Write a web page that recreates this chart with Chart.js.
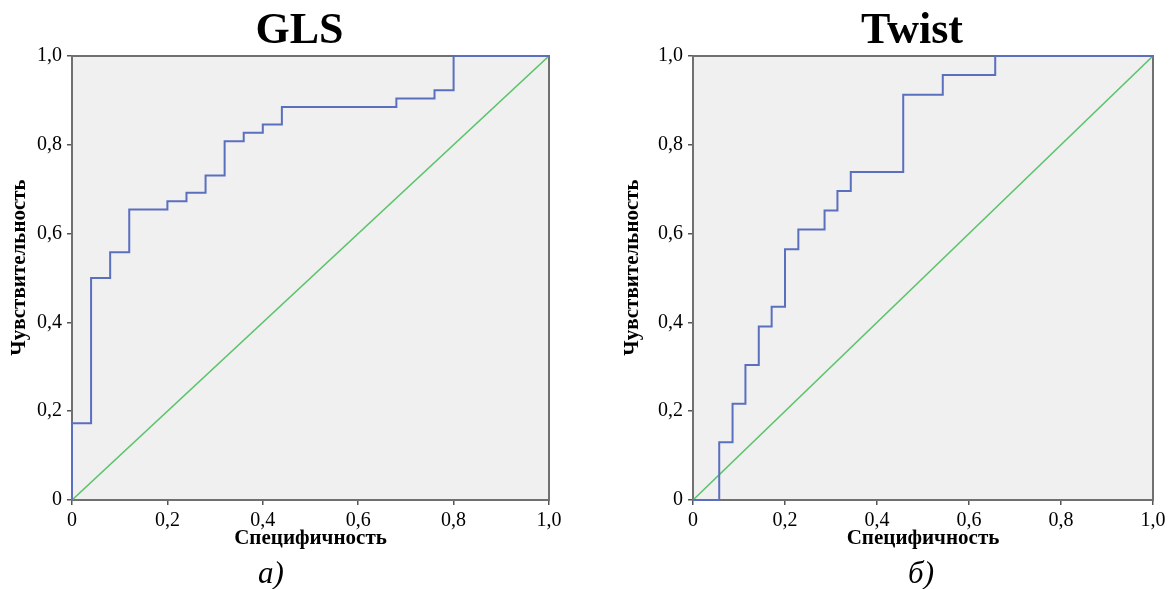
<!DOCTYPE html>
<html>
<head>
<meta charset="utf-8">
<script src="https://cdn.jsdelivr.net/npm/chart.js@4.4.1/dist/chart.umd.min.js"></script>
<style>
  body { margin: 0; background: #fff; width: 1172px; height: 589px; position: relative; overflow: hidden; font-family: "Liberation Serif", "Times New Roman", serif; }
  .box { position: absolute; top: 0; height: 589px; }
  .cap { position: absolute; top: 555px; font-style: italic; font-size: 31px; transform: translateX(-50%); color: #000; }
</style>
</head>
<body>
<div class="box" style="left:0;width:586px"><canvas id="glsChart"></canvas></div>
<div class="box" style="left:600px;width:572px"><canvas id="twistChart"></canvas></div>
<div class="cap" style="left:271px">а)</div>
<div class="cap" style="left:921px">б)</div>

<script>
// ROC curve corners (x = 1 - specificity, y = sensitivity)
const glsX = [0, 0, 0.04, 0.08, 0.12, 0.20, 0.24, 0.28, 0.32, 0.36, 0.40, 0.44, 0.68, 0.76, 0.80, 1.0];
const glsY = [0, 0.173, 0.500, 0.558, 0.654, 0.673, 0.692, 0.731, 0.808, 0.827, 0.846, 0.885, 0.904, 0.923, 1.0, 1.0];

const twistX = [0, 0.057, 0.086, 0.114, 0.143, 0.171, 0.200, 0.229, 0.286, 0.314, 0.343, 0.457, 0.543, 0.657, 1.0];
const twistY = [0, 0.130, 0.217, 0.304, 0.391, 0.435, 0.565, 0.609, 0.652, 0.696, 0.739, 0.913, 0.957, 1.0, 1.0];

// reference diagonal
const refX = [0, 1];
const refY = [0, 1];

const xTickLabels = ['0', '0,2', '0,4', '0,6', '0,8', '1,0'];
const yTickLabels = ['0', '0,2', '0,4', '0,6', '0,8', '1,0'];

const serif = '"Liberation Serif", "Times New Roman", serif';

// grey plot background plus frame round the plot area
const framePlugin = {
    id: 'frame',
    beforeDatasetsDraw(chart) {
        const a = chart.chartArea, ctx = chart.ctx;
        ctx.save();
        ctx.fillStyle = '#f0f0f0';
        ctx.fillRect(a.left, a.top, a.right - a.left, a.bottom - a.top);
        ctx.strokeStyle = '#707070';
        ctx.lineWidth = 2;
        ctx.strokeRect(a.left, a.top, a.right - a.left, a.bottom - a.top);
        ctx.restore();
    }
};

function toPoints(xs, ys) {
    return xs.map((x, i) => ({ x: x, y: ys[i] }));
}

function makeRoc(id, titleText, xs, ys, axisWidth, padRight, yTitlePad) {
    const ctx = document.getElementById(id).getContext('2d');
    return new Chart(ctx, {
        type: 'line',
        data: {
            datasets: [{
                data: toPoints(xs, ys),
                stepped: 'before',
                borderColor: '#5b6fbf',
                borderWidth: 2,
                pointRadius: 0,
                fill: false,
                clip: 3
            }, {
                data: toPoints(refX, refY),
                borderColor: '#5cc46b',
                borderWidth: 1.6,
                pointRadius: 0,
                fill: false
            }]
        },
        options: {
            responsive: true,
            maintainAspectRatio: false,
            animation: false,
            layout: { padding: { left: 0, right: padRight, top: 0, bottom: 39 } },
            plugins: {
                legend: { display: false },
                tooltip: { enabled: false },
                title: {
                    display: true,
                    // trailing spaces nudge the title a little left of the plot centre, as in the source
                    text: titleText + '  ',
                    fullSize: false,
                    color: '#000',
                    font: { family: serif, size: 44, weight: 'bold', lineHeight: 1.0 },
                    padding: { top: 10, bottom: 2 }
                }
            },
            scales: {
                x: {
                    type: 'linear',
                    min: 0, max: 1,
                    afterFit: (scale) => { scale.height = 50; },
                    border: { display: false },
                    grid: { drawOnChartArea: false, tickLength: 5, color: '#555', lineWidth: 1.5 },
                    ticks: {
                        stepSize: 0.2,
                        padding: 4,
                        color: '#000',
                        maxRotation: 0,
                        font: { family: serif, size: 20 },
                        callback: (v, i) => xTickLabels[i]
                    },
                    title: {
                        display: true,
                        text: 'Специфичность',
                        color: '#000',
                        font: { family: serif, size: 21, weight: 'bold', lineHeight: 1.1 },
                        padding: { top: 0, bottom: 0 }
                    }
                },
                y: {
                    type: 'linear',
                    min: 0, max: 1,
                    afterFit: (scale) => { scale.width = axisWidth; },
                    border: { display: false },
                    grid: { drawOnChartArea: false, tickLength: 5, color: '#555', lineWidth: 1.5 },
                    ticks: {
                        stepSize: 0.2,
                        padding: 5,
                        color: '#000',
                        font: { family: serif, size: 20 },
                        callback: (v, i) => yTickLabels[i]
                    },
                    title: {
                        display: true,
                        // leading spaces lift the rotated label slightly, as in the source
                        text: '    Чувствительность',
                        color: '#000',
                        font: { family: serif, size: 21, weight: 'bold', lineHeight: 1.1 },
                        padding: { top: yTitlePad, bottom: 0 }
                    }
                }
            }
        },
        plugins: [framePlugin]
    });
}

makeRoc('glsChart', 'GLS', glsX, glsY, 72, 37, 8);
makeRoc('twistChart', 'Twist', twistX, twistY, 93, 19, 21);
</script>
</body>
</html>
